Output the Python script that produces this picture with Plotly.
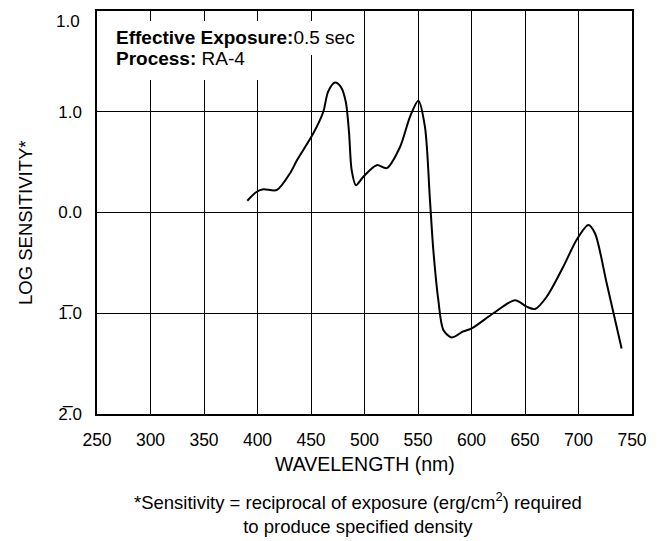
import plotly.graph_objects as go

wavelength = [390.5, 399.3, 405.5, 418, 430.4, 437, 452.2, 461.5, 466, 472.4, 478, 482.5, 485.5, 488,
              492, 498.9, 511.4, 520.8, 533.2, 542.5, 550.3, 556.5, 561.2, 564.3, 569,
              573.7, 581.5, 592.3, 600.2, 620.4, 640.7, 651.6, 659.4, 670.3, 685.8,
              698.3, 709.2, 715.4, 726.3, 740.3]
log_sens = [0.117, 0.206, 0.23, 0.223, 0.39, 0.52, 0.786, 1.0, 1.2, 1.29, 1.245, 1.1, 0.8, 0.42,
            0.27, 0.355, 0.47, 0.44, 0.65, 0.95, 1.11, 0.85, 0.12, -0.37, -0.87,
            -1.166, -1.24, -1.18, -1.15, -1.0, -0.87, -0.935, -0.958, -0.836, -0.538,
            -0.27, -0.124, -0.206, -0.70, -1.35]

x_ticks = [250, 300, 350, 400, 450, 500, 550, 600, 650, 700, 750]
y_ticks = [-2, -1, 0, 1]
y_ticktext = ["2\u0305.0", "1\u0305.0", "0.0", "1.0"]
y_top_label = "1.0"   # label printed at the top edge (y = 2) of the chart

FONT = "Liberation Sans, Arial, sans-serif"

fig = go.Figure()
fig.add_trace(go.Scatter(x=wavelength, y=log_sens, mode="lines",
                         line=dict(color="black", width=2, shape="spline", smoothing=0.8),
                         hoverinfo="skip", showlegend=False))

fig.update_layout(
    width=657, height=533,
    margin=dict(l=89, r=33, t=3, b=127, autoexpand=False),
    paper_bgcolor="white", plot_bgcolor="white",
    font=dict(family=FONT, size=17, color="black"),
    showlegend=False,
    xaxis=dict(range=[250, 750], tickvals=x_ticks, ticktext=[str(v) for v in x_ticks],
               showgrid=True, gridcolor="black", gridwidth=1, zeroline=False,
               showline=True, linecolor="black", linewidth=1.5, mirror=True,
               ticks="", ticklabelstandoff=9, automargin=False,
               tickfont=dict(size=17.5)),
    yaxis=dict(range=[-2, 2], tickvals=y_ticks, ticktext=y_ticktext,
               showgrid=True, gridcolor="black", gridwidth=1, zeroline=False,
               showline=True, linecolor="black", linewidth=1.5, mirror=True,
               ticks="", ticklabelstandoff=10, automargin=False,
               tickfont=dict(size=17)),
)

fig.add_shape(type="rect", xref="paper", yref="paper", x0=0.004, x1=0.495, y0=0.891, y1=0.975,
              fillcolor="white", line=dict(width=0), layer="above")
fig.add_shape(type="rect", xref="paper", yref="paper", x0=0.004, x1=0.385, y0=0.829, y1=0.892,
              fillcolor="white", line=dict(width=0), layer="above")

# top-edge y label (y = 2), printed just under the top border as in the original
fig.add_annotation(xref="paper", yref="y", x=-0.028, y=2, xanchor="right", yanchor="top",
                   yshift=1, text=y_top_label, showarrow=False, font=dict(size=17))

fig.add_annotation(xref="paper", yref="paper", x=0.031, y=0.934, xanchor="left", yanchor="middle",
                   text="<b>Effective Exposure:</b>0.5 sec", showarrow=False, font=dict(size=19))
fig.add_annotation(xref="paper", yref="paper", x=0.031, y=0.882, xanchor="left", yanchor="middle",
                   text="<b>Process:</b> RA-4", showarrow=False, font=dict(size=19))

fig.add_annotation(xref="paper", yref="paper", x=0.5, y=-0.124, xanchor="center", yanchor="middle",
                   text="WAVELENGTH (nm)", showarrow=False, font=dict(size=19.5))
fig.add_annotation(xref="paper", yref="paper", x=-0.1327, y=0.474, xanchor="center", yanchor="middle",
                   text="LOG SENSITIVITY*", textangle=-90, showarrow=False, font=dict(size=18.5))

fig.add_annotation(xref="paper", yref="paper", x=0.488, y=-0.245, xanchor="center", yanchor="middle",
                   text="*Sensitivity = reciprocal of exposure (erg/cm<sup>2</sup>) required<br>to produce specified density",
                   showarrow=False, font=dict(size=18.5), align="center")

fig.write_html("out.html")
